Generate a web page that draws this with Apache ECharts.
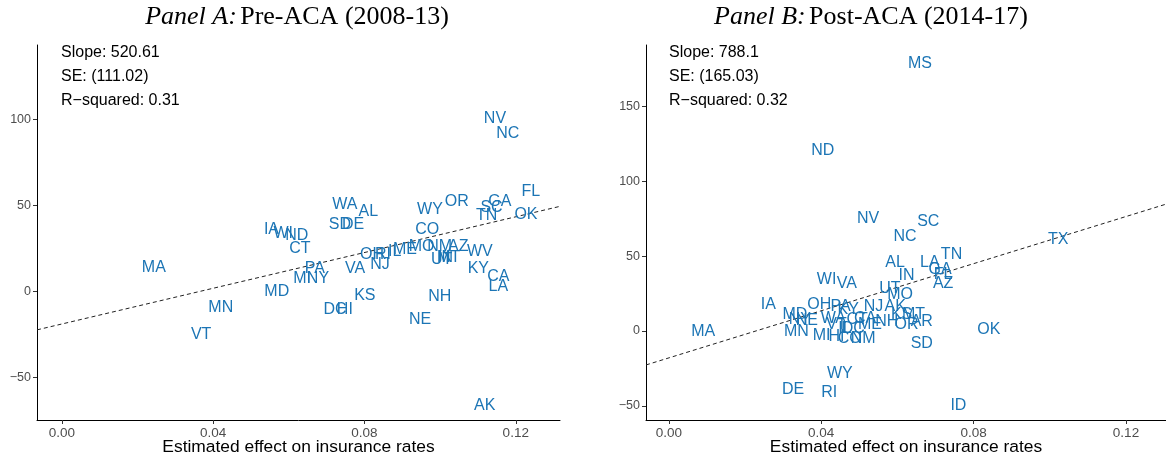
<!DOCTYPE html>
<html>
<head>
<meta charset="utf-8">
<script src="https://cdn.jsdelivr.net/npm/echarts@6/dist/echarts.min.js"></script>
<style>html,body{margin:0;padding:0;background:#fff}#c{width:1166px;height:458px}</style>
</head>
<body>
<div id="c"></div>
<script>
// ---- Panel A: Pre-ACA (2008-13) ----
const statesA = ['FL','OR','GA','SC','TN','OK','WY','WA','AL','SD','DE','IA','WI','ND','CT','CO','MO','NM','AZ','ME','IL','OH','RI','NJ','WV','UT','MT','IN','KY','CA','LA','VA','PA','MI','NY','MD','KS','NH','DC','HI','NE','NV','NC','MA','MN','VT','AK'];
const xA = [0.1240,0.1044,0.1158,0.1136,0.1123,0.1227,0.0973,0.0748,0.0810,0.0735,0.0770,0.0554,0.0585,0.0621,0.0629,0.0966,0.0951,0.0999,0.1048,0.0907,0.0880,0.0820,0.0849,0.0841,0.1105,0.1004,0.1023,0.1013,0.1101,0.1154,0.1154,0.0775,0.0669,0.0635,0.0677,0.0568,0.0801,0.0999,0.0722,0.0748,0.0947,0.1145,0.1179,0.0243,0.0420,0.0368,0.1118];
const yA = [58.9,53.5,53.1,49.7,45.0,45.4,48.3,51.6,47.7,39.6,39.6,36.7,34.8,33.4,26.1,36.7,27.1,27.1,27.1,25.3,24.2,22.4,22.4,16.5,24.2,19.4,20.7,20.7,14.1,9.7,3.9,14.1,14.1,8.7,8.7,1.0,-1.3,-1.9,-9.3,-9.3,-15.2,101.2,92.5,14.9,-8.3,-23.9,-65.1];
const fitA = [[-0.0066,-22.2],[0.1317,49.6]];
const statsA = ['Slope: 520.61','SE: (111.02)','R\u2212squared: 0.31'];

// ---- Panel B: Post-ACA (2014-17) ----
const statesB = ['NV','SC','NC','TN','AL','LA','GA','FL','AZ','IN','WI','VA','UT','MO','IA','OH','PA','KY','NJ','AK','MD','MT','KS','NE','NY','WA','CA','CT','NH','OR','AR','MN','MI','VT','IL','DC','ME','HI','CO','NM','SD','OK','MA','WY','DE','RI','ID','ND','MS','TX'];
const xB = [0.0523,0.0681,0.0620,0.0742,0.0594,0.0685,0.0712,0.0720,0.0720,0.0624,0.0414,0.0467,0.0580,0.0607,0.0261,0.0395,0.0451,0.0471,0.0537,0.0594,0.0331,0.0642,0.0611,0.0362,0.0344,0.0432,0.0515,0.0494,0.0572,0.0624,0.0664,0.0335,0.0401,0.0440,0.0462,0.0484,0.0528,0.0440,0.0475,0.0510,0.0664,0.0840,0.0090,0.0449,0.0326,0.0421,0.0760,0.0404,0.0659,0.1022];
const yB = [76.0,74.2,64.2,52.3,47.0,47.0,41.9,38.6,33.0,38.1,35.2,33.0,29.6,25.2,18.9,18.9,17.4,15.2,17.4,17.4,11.8,11.8,11.8,7.8,8.7,9.6,9.6,8.7,7.4,5.1,7.4,0.7,-2.0,5.1,2.9,2.9,5.1,-2.7,-4.2,-3.8,-7.2,2.0,0.7,-27.6,-38.3,-39.9,-48.8,121.7,179.8,62.2];
const fitB = [[-0.0060,-22.7],[0.1305,84.8]];
const statsB = ['Slope: 788.1','SE: (165.03)','R\u2212squared: 0.32'];

const xTicks = [0, 0.04, 0.08, 0.12];
const yTicksA = [-50, 0, 50, 100];
const yTicksB = [-50, 0, 50, 100, 150];

const LABEL_COLOR = '#1C75B5';
const SANS = 'Liberation Sans, Arial, sans-serif';

function xAxisCfg(idx, min, max) {
  return {
    type: 'value', gridIndex: idx, min: min, max: max,
    name: 'Estimated effect on insurance rates', nameLocation: 'middle', nameGap: 19,
    nameMoveOverlap: false,
    nameTextStyle: { color: '#000', fontSize: 17.4, fontFamily: SANS },
    axisLine: { show: true, onZero: false, lineStyle: { color: '#000', width: 1 } },
    axisTick: { show: true, length: 4, customValues: xTicks, lineStyle: { color: '#333' } },
    axisLabel: { customValues: xTicks, margin: 6, color: '#4d4d4d', fontSize: 13.5, fontFamily: SANS,
      formatter: v => v.toFixed(2) },
    splitLine: { show: false }
  };
}
function yAxisCfg(idx, min, max, ticks) {
  return {
    type: 'value', gridIndex: idx, min: min, max: max,
    axisLine: { show: true, onZero: false, lineStyle: { color: '#000', width: 1 } },
    axisTick: { show: true, length: 4, customValues: ticks, lineStyle: { color: '#333' } },
    axisLabel: { customValues: ticks, margin: 6, color: '#4d4d4d', fontSize: 12.5, fontFamily: SANS,
      formatter: v => (v < 0 ? '\u2212' + Math.abs(v) : String(v)) },
    splitLine: { show: false }
  };
}
function labelSeries(idx, names, xs, ys) {
  return {
    type: 'scatter', xAxisIndex: idx, yAxisIndex: idx,
    symbolSize: 1, itemStyle: { color: 'rgba(0,0,0,0)', opacity: 1 },
    data: names.map((s, i) => ({ name: s, value: [xs[i], ys[i]] })),
    label: { show: true, position: 'inside', offset: [0, 1.5], formatter: '{b}', color: LABEL_COLOR, opacity: 1,
      fontSize: 16, fontFamily: SANS, textBorderWidth: 0 },
    emphasis: { disabled: true }, silent: true, z: 3
  };
}
function fitSeries(idx, pts) {
  return {
    type: 'line', xAxisIndex: idx, yAxisIndex: idx, data: pts,
    symbol: 'none', silent: true, z: 2,
    lineStyle: { color: '#222', width: 1, type: [4, 3] }
  };
}
function statTexts(lines, left) {
  return lines.map((t, i) => ({
    type: 'text', x: left, y: 53 + i * 24, silent: true,
    style: { text: t, fill: '#000', font: '16px ' + SANS, align: 'left', verticalAlign: 'middle' }
  }));
}
function titleText(cx, a, b) {
  return {
    type: 'text', x: cx, y: 17, silent: true,
    style: {
      text: '{i|' + a + '} {n|' + b + '}', align: 'center', verticalAlign: 'middle',
      rich: {
        i: { font: 'italic 26px Liberation Serif, serif', fill: '#000' },
        n: { font: '26px Liberation Serif, serif', fill: '#000' }
      }
    }
  };
}

const chart = echarts.init(document.getElementById('c'), null, { renderer: 'canvas' });
chart.setOption({
  animation: false,
  backgroundColor: '#fff',
  grid: [
    { left: 37, top: 45, width: 523, height: 375, outerBoundsMode: 'none', containLabel: false },
    { left: 646, top: 45, width: 520, height: 375, outerBoundsMode: 'none', containLabel: false }
  ],
  xAxis: [xAxisCfg(0, -0.0066, 0.1317), xAxisCfg(1, -0.0060, 0.1305)],
  yAxis: [yAxisCfg(0, -74.6, 143.4, yTicksA), yAxisCfg(1, -59.5, 191.2, yTicksB)],
  series: [
    fitSeries(0, fitA), labelSeries(0, statesA, xA, yA),
    fitSeries(1, fitB), labelSeries(1, statesB, xB, yB)
  ],
  graphic: [].concat(
    statTexts(statsA, 61), statTexts(statsB, 669),
    [titleText(297, 'Panel A:', 'Pre-ACA (2008-13)'), titleText(871, 'Panel B:', 'Post-ACA (2014-17)')]
  )
});
</script>
</body>
</html>
